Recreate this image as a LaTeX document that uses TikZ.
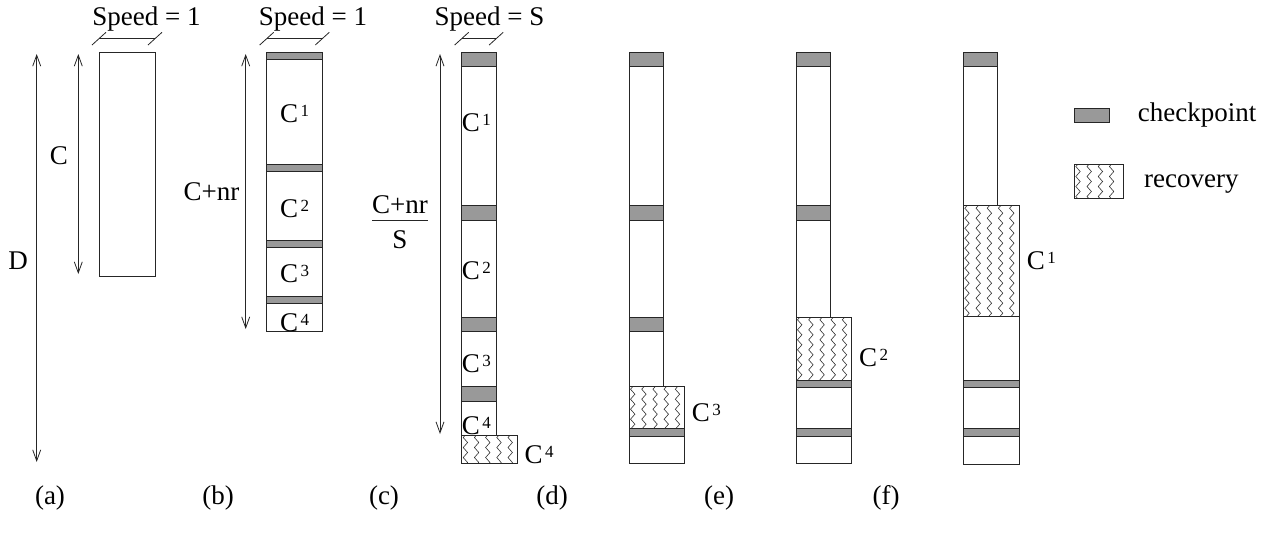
\documentclass[tikz,border=0pt]{standalone}
\usepackage{fontspec}
\setmainfont{Liberation Serif}
\usetikzlibrary{arrows.meta,decorations.pathmorphing}

\tikzset{
  ln/.style={line width=0.9pt, draw=black!85},
  ckpt/.style={ln, fill=black!40},
  task/.style={ln, fill=white},
  dimarrow/.style={line width=0.8pt, draw=black!85,
    {Straight Barb[length=11pt,width=8pt]}-{Straight Barb[length=11pt,width=8pt]}},
  lbl/.style={inner sep=0pt, font=\fontsize{27}{31}\selectfont},
  zz/.style={line width=0.6pt, draw=black!80, decorate,
    decoration={zigzag, segment length=10pt, amplitude=2.2pt}},
  tick/.style={line width=0.8pt, draw=black!85},
}

% C with a small raised index
\newcommand\Ck[1]{C\kern2.5pt\raisebox{6pt}{\fontsize{17}{17}\selectfont #1}}

% recovery block: x1 y1 x2 y2 number-of-zigzag-columns
\newcommand\recov[5]{%
  \begin{scope}
    \clip (#1,#2) rectangle (#3,#4);
    \foreach \k in {1,...,#5} {
      \draw[zz] ({#1+3.7+(\k-1)*11.2},{#2-5}) -- ({#1+3.7+(\k-1)*11.2},{#4+5});
    }
  \end{scope}
  \draw[ln] (#1,#2) rectangle (#3,#4);}

% speed bracket over a column: left edge, right edge
\newcommand\speedmark[2]{%
  \draw[tick] ({#1-7},45) -- ({#1+7},32.3);
  \draw[tick] ({#2-7},45) -- ({#2+7},32.3);
  \draw[tick] (#1,38.7) -- (#2,38.7);}

\begin{document}
\begin{tikzpicture}[x=1pt,y=-1pt]
\useasboundingbox (0,0) rectangle (1270,542);

% ---------- (a) ----------
\draw[task] (99,52.3) rectangle (155,276);
\speedmark{99}{155}
\node[lbl, anchor=base] (spa) at (146.5,25) {Speed = 1};
\coordinate (Dt) at (36.7,54);  \coordinate (Db) at (36.7,462);
\coordinate (Ct) at (78.3,54);  \coordinate (Cb) at (78.3,274);
\draw[dimarrow] (Dt) -- (Db);
\draw[dimarrow] (Ct) -- (Cb);
\node[lbl, anchor=base] (lD) at (18,269) {D};
\node[lbl, anchor=base] (lC) at (59,164) {C};

% ---------- (b) ----------
\draw[task] (266.7,52.3) rectangle (322.3,331);
\draw[ckpt] (266.7,52.3) rectangle (322.3,59.3);
\draw[ckpt] (266.7,164.3) rectangle (322.3,171.7);
\draw[ckpt] (266.7,240.7) rectangle (322.3,247.7);
\draw[ckpt] (266.7,296.7) rectangle (322.3,303.3);
\speedmark{266.7}{322.3}
\node[lbl, anchor=base] (spb) at (313,25) {Speed = 1};
\coordinate (Bt) at (245.7,54); \coordinate (Bb) at (245.7,329);
\draw[dimarrow] (Bt) -- (Bb);
\node[lbl, anchor=base] (lB) at (211.5,200) {C+nr};
\node[lbl, anchor=base west] (b1) at (280,122.5) {\Ck{1}};
\node[lbl, anchor=base west] (b2) at (280,217) {\Ck{2}};
\node[lbl, anchor=base west] (b3) at (280,282) {\Ck{3}};
\node[lbl, anchor=base west] (b4) at (280,331) {\Ck{4}};

% ---------- (c) ----------
\draw[task] (461.7,52.3) rectangle (496.2,435);
\draw[ckpt] (461.7,52.3) rectangle (496.2,66.7);
\draw[ckpt] (461.7,205.7) rectangle (496.2,220);
\draw[ckpt] (461.7,317.7) rectangle (496.2,331);
\draw[ckpt] (461.7,386.7) rectangle (496.2,401);
\recov{461.7}{435}{517}{463.3}{5}
\speedmark{461.7}{496.2}
\node[lbl, anchor=base] (spc) at (489.5,25) {Speed = S};
\coordinate (St) at (440,54); \coordinate (Sb) at (440,434);
\draw[dimarrow] (St) -- (Sb);
\node[lbl, anchor=base] (fnum) at (400,213) {C+nr};
\draw[ln] (372,220) -- (428,220);
\node[lbl, anchor=base] (fden) at (400,248) {S};
\node[lbl, anchor=base west] (c1) at (461.7,131) {\Ck{1}};
\node[lbl, anchor=base west] (c2) at (461.7,279) {\Ck{2}};
\node[lbl, anchor=base west] (c3) at (461.7,372) {\Ck{3}};
\node[lbl, anchor=base west] (c4) at (461.7,434) {\Ck{4}};
\node[lbl, anchor=base west] (c4r) at (524.3,463) {\Ck{4}};

% ---------- (d) ----------
\draw[task] (629,52.3) rectangle (663.7,386.7);
\draw[ckpt] (629,52.3) rectangle (663.7,66.7);
\draw[ckpt] (629,205.7) rectangle (663.7,220);
\draw[ckpt] (629,317.3) rectangle (663.7,331);
\draw[task] (629,386.7) rectangle (684.7,463.3);
\recov{629}{386.7}{684.7}{428.3}{5}
\draw[ckpt] (629,428.3) rectangle (684.7,436);
\node[lbl, anchor=base west] (d3) at (691.7,421.5) {\Ck{3}};

% ---------- (e) ----------
\draw[task] (796,52.3) rectangle (830.7,317.3);
\draw[ckpt] (796,52.3) rectangle (830.7,66.7);
\draw[ckpt] (796,205.7) rectangle (830.7,220);
\draw[task] (796,317.3) rectangle (851.7,463.3);
\recov{796}{317.3}{851.7}{380}{5}
\draw[ckpt] (796,380) rectangle (851.7,387.3);
\draw[ckpt] (796,428.3) rectangle (851.7,436);
\node[lbl, anchor=base west] (e2) at (859,366) {\Ck{2}};

% ---------- (f) ----------
\draw[task] (963.3,52.3) rectangle (997.7,205.7);
\draw[ckpt] (963.3,52.3) rectangle (997.7,66.7);
\draw[task] (963.3,205.7) rectangle (1019,464);
\recov{963.3}{205.7}{1019}{316.7}{5}
\draw[ckpt] (963.3,380) rectangle (1019,387.3);
\draw[ckpt] (963.3,428.3) rectangle (1019,436);
\node[lbl, anchor=base west] (f1) at (1026.7,269) {\Ck{1}};

% ---------- legend ----------
\draw[ckpt] (1074.3,108.3) rectangle (1109.3,122.3);
\node[lbl, anchor=base west] (legc) at (1137.7,121) {checkpoint};
\recov{1074.3}{164}{1123.3}{198.3}{4}
\node[lbl, anchor=base west] (legr) at (1144,187) {recovery};

% ---------- captions ----------
\node[lbl, anchor=base] (capa) at (50,504) {(a)};
\node[lbl, anchor=base] (capb) at (218,504) {(b)};
\node[lbl, anchor=base] (capc) at (384,504) {(c)};
\node[lbl, anchor=base] (capd) at (552,504) {(d)};
\node[lbl, anchor=base] (cape) at (719,504) {(e)};
\node[lbl, anchor=base] (capf) at (886,504) {(f)};
\end{tikzpicture}
\end{document}
